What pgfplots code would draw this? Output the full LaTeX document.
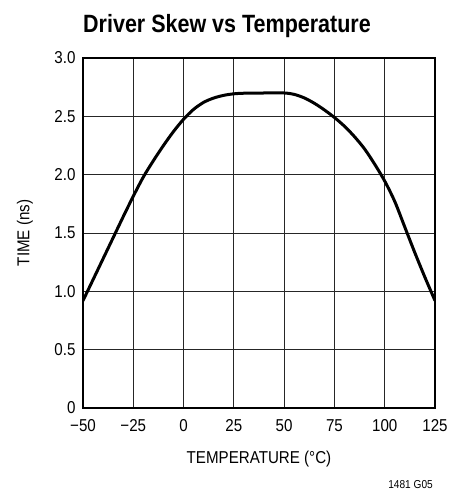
\documentclass[border=0pt]{standalone}
\usepackage{pgfplots}
\pgfplotsset{compat=1.18}
\usepackage{fontspec}
\setmainfont{Liberation Sans}[FakeStretch=0.88]
\newfontfamily\titlefont{Liberation Sans}[FakeStretch=0.86]
\usetikzlibrary{calc}

\newcommand{\lbl}{\fontsize{17.2}{20}\selectfont}

\begin{document}
\begin{tikzpicture}
\begin{axis}[
  scale only axis,
  width=352pt,height=350pt,
  xmin=-50,xmax=125,ymin=0,ymax=3,
  xtick={-50,-25,0,25,50,75,100,125},
  xticklabels={−50,−25,0,25,50,75,100,125},
  ytick={0,0.5,1,1.5,2,2.5,3},
  yticklabels={0,0.5,1.0,1.5,2.0,2.5,3.0},
  major tick length=0pt,
  tick label style={font=\lbl},
  xticklabel style={yshift=-8pt},
  yticklabel style={xshift=-4pt},
  grid=major,
  grid style={black!85,line width=0.8pt},
  axis line style={black,line width=1.3pt},
]
% skew vs temperature
\addplot[black,line width=3pt,smooth] coordinates {
(-50,0.92) (-45,1.10) (-40,1.28) (-35,1.46) (-30,1.64) (-25,1.815)
(-20,1.98) (-15,2.12) (-10,2.25) (-5,2.37) (0,2.475) (5,2.56)
(10,2.62) (15,2.657) (20,2.68) (25,2.693) (30,2.698) (40,2.70)
(50,2.70) (55,2.688) (60,2.658) (65,2.612) (70,2.555) (75,2.49)
(80,2.415) (85,2.325) (90,2.22) (95,2.09) (100,1.945) (105,1.77)
(110,1.55) (115,1.33) (120,1.12) (125,0.92)
};
\coordinate (SW) at (rel axis cs:0,0);
\end{axis}
\node[anchor=base,font=\titlefont\bfseries\fontsize{25}{28}\selectfont]
  at ($(SW)+(144pt,375.7pt)$) {Driver Skew vs Temperature};
\node[anchor=base,font=\lbl] at ($(SW)+(176pt,-55pt)$) {TEMPERATURE (°C)};
\node[rotate=90,font=\lbl] at ($(SW)+(-58pt,175pt)$) {TIME (ns)};
\node[anchor=base east,font=\fontsize{11.5}{13}\selectfont,inner sep=0pt]
  at ($(SW)+(350pt,-80pt)$) {1481 G05};
\pgfresetboundingbox
\path[use as bounding box] ($(SW)+(-83pt,-81pt)$) rectangle ($(SW)+(367pt,408pt)$);
\end{tikzpicture}
\end{document}
